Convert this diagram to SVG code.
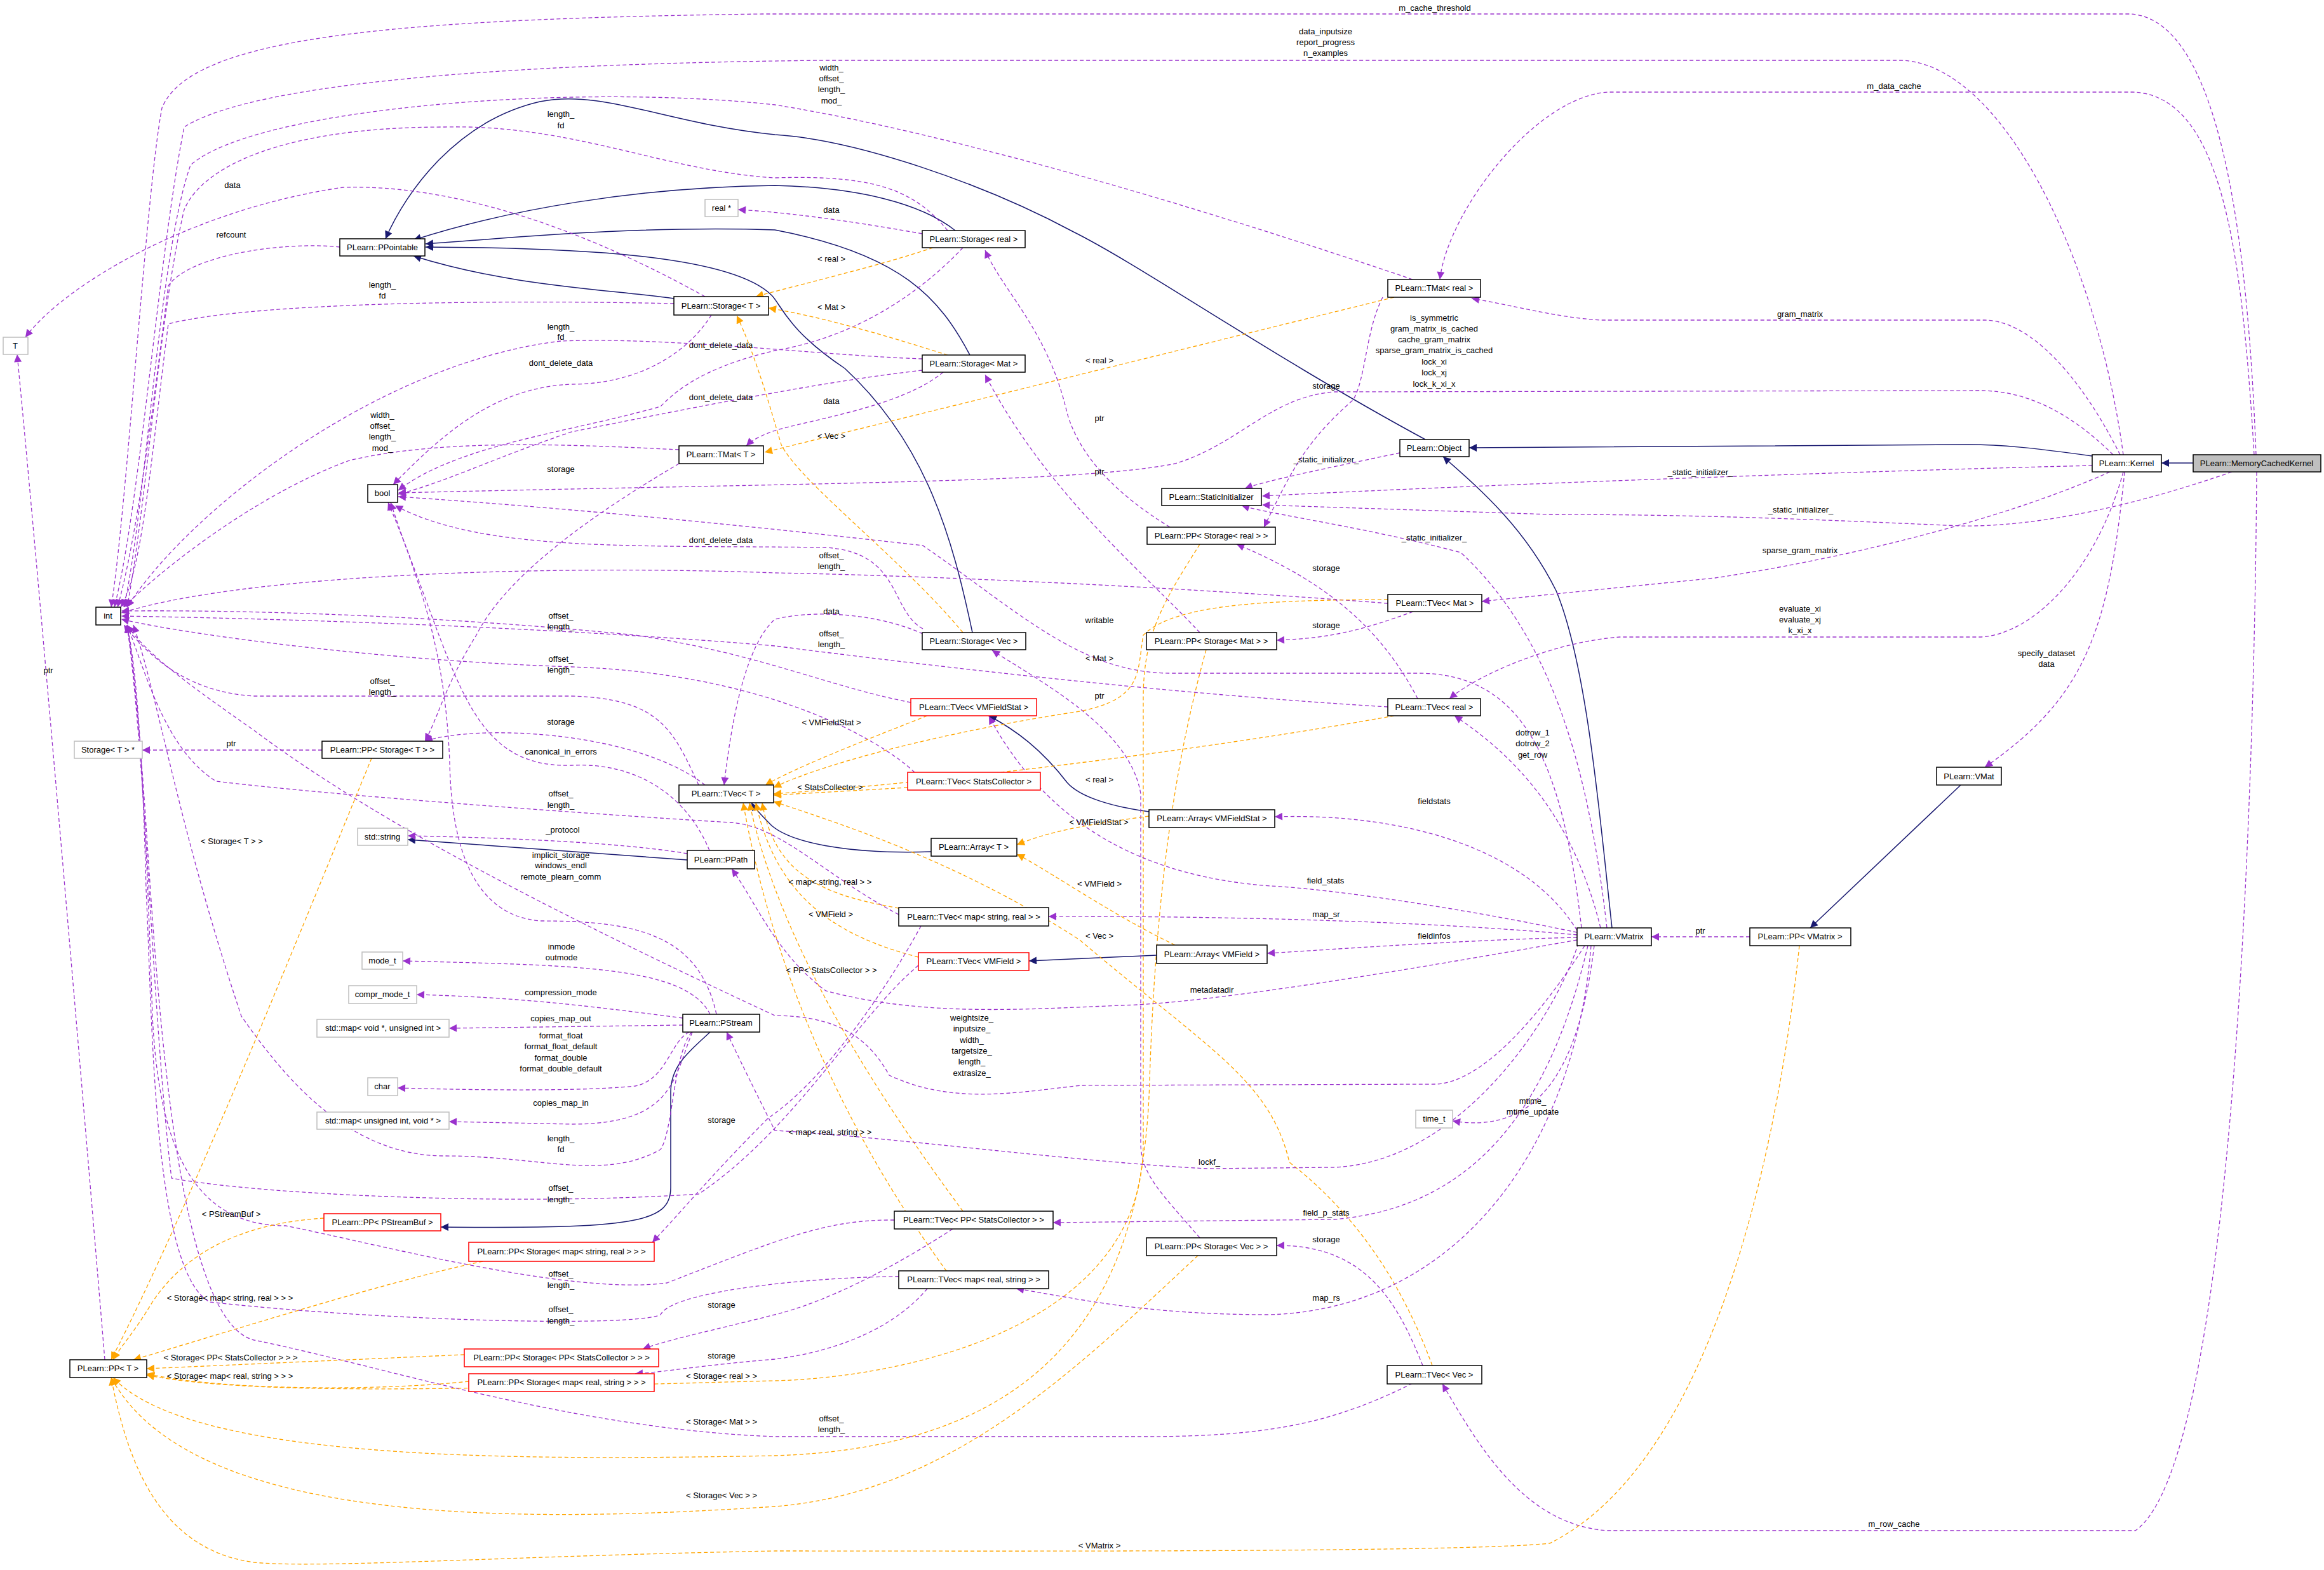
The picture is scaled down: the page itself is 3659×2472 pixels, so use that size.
<svg xmlns="http://www.w3.org/2000/svg" width="3659" height="2472" viewBox="0 0 3659 2472">
<style>
text{font-family:"Liberation Sans",Arial,sans-serif;font-size:13px;fill:#000}
.n rect{fill:#fff;stroke:#000;stroke-width:1.5}
.g rect{fill:#fff;stroke:#bfbfbf;stroke-width:1.5}
.r rect{fill:#fff;stroke:#ff0000;stroke-width:1.5}
.m rect{fill:#bfbfbf;stroke:#000;stroke-width:1.5}
.node text{text-anchor:middle}
.p{fill:none;stroke:#9a32cd;stroke-width:1.3;stroke-dasharray:6,4;marker-end:url(#ap)}
.o{fill:none;stroke:#ffa500;stroke-width:1.3;stroke-dasharray:6,4;marker-end:url(#ao)}
.b{fill:none;stroke:#191970;stroke-width:1.5;marker-end:url(#ab)}
.l text{text-anchor:middle}
</style>
<defs>
<marker id="ap" viewBox="0 0 10 10" refX="10" refY="5" markerWidth="14" markerHeight="12" markerUnits="userSpaceOnUse" orient="auto"><path d="M0,0L10,5L0,10z" fill="#9a32cd"/></marker>
<marker id="ao" viewBox="0 0 10 10" refX="10" refY="5" markerWidth="14" markerHeight="12" markerUnits="userSpaceOnUse" orient="auto"><path d="M0,0L10,5L0,10z" fill="#ffa500"/></marker>
<marker id="ab" viewBox="0 0 10 10" refX="10" refY="5" markerWidth="16" markerHeight="12" markerUnits="userSpaceOnUse" orient="auto"><path d="M0,0L10,5L0,10z" fill="#191970"/></marker>
</defs>
<rect width="3659" height="2472" fill="#fff"/>
<g id="connectors">
<!-- inheritance -->
<path class="b" d="M3453,729L3403,729"/>
<path class="b" d="M3294,718C3200,705 3150,700 3100,700L2313,705"/>
<path class="b" d="M2244,692C2000,560 1800,420 1690,365C1550,290 1350,220 1220,212C1050,195 950,140 850,160C720,190 640,300 607,376"/>
<path class="b" d="M1504,363C1450,320 1350,295 1220,292C1000,295 800,330 651,378"/>
<path class="b" d="M1527,559C1480,470 1420,400 1220,362C1000,355 800,375 670,384"/>
<path class="b" d="M1061,470C950,455 800,450 651,403"/>
<path class="b" d="M1531,996C1500,850 1460,700 1330,580C1240,520 1230,480 1215,465C1150,400 900,390 670,389"/>
<path class="b" d="M1809,1278C1750,1270 1700,1255 1680,1232C1640,1180 1600,1150 1557,1127"/>
<path class="b" d="M1466,1341C1350,1345 1250,1330 1215,1300C1200,1285 1190,1275 1183,1264"/>
<path class="b" d="M1821,1504L1620,1513"/>
<path class="b" d="M1082,1354L642,1322"/>
<path class="b" d="M1118,1625C1080,1660 1056,1680 1056,1720L1056,1870C1056,1925 1000,1935 694,1932"/>
<path class="b" d="M3087,1236L2850,1461"/>
<path class="b" d="M2538,1461C2520,1300 2500,1050 2450,930C2400,830 2330,770 2272,719"/>
<!-- MemoryCachedKernel / Kernel -->
<path class="p" d="M3552,716C3540,400 3500,30 3354,22L1200,22C600,30 300,60 255,170C230,300 200,800 175,956"/>
<path class="p" d="M3549,716C3530,400 3500,150 3358,145L2533,145C2420,150 2280,330 2267,440"/>
<path class="p" d="M3553,743C3550,1200 3520,2300 3362,2410L2530,2410C2400,2400 2330,2280 2271,2179"/>
<path class="p" d="M3514,743C3350,800 3200,830 3086,828C2900,820 2700,810 2440,810L1987,795"/>
<path class="p" d="M3343,716C3300,400 3150,100 2993,95L1300,95C800,100 400,130 290,200C250,400 220,800 180,956"/>
<path class="p" d="M3338,716C3280,600 3200,505 3125,504L2520,504C2450,500 2380,480 2317,470"/>
<path class="p" d="M3327,716C3250,640 3180,615 3117,615L2100,617C2000,625 1950,700 1850,730C1700,760 1300,760 627,776"/>
<path class="p" d="M3294,733C3000,740 2400,760 1987,781"/>
<path class="p" d="M3322,743C3150,820 2900,880 2700,910C2500,930 2400,940 2333,947"/>
<path class="p" d="M3343,743C3300,900 3200,1000 3117,1003L2550,1003C2450,1010 2330,1060 2282,1100"/>
<path class="p" d="M3345,743C3320,1000 3280,1100 3125,1208"/>
<!-- TMat real -->
<path class="p" d="M2224,440C1900,330 1500,210 1220,165C900,130 400,170 300,260C250,400 230,800 195,956"/>
<path class="p" d="M2177,468C2150,520 2150,600 2130,630C2050,700 2030,750 1990,830"/>
<path class="o" d="M2195,468L1204,712"/>
<!-- Storage real -->
<path class="p" d="M1452,368C1350,350 1250,335 1162,330"/>
<path class="o" d="M1469,390C1380,420 1250,450 1190,467"/>
<path class="p" d="M1516,390C1450,460 1350,530 1220,552C1100,580 1060,620 1040,640C900,680 720,700 627,772"/>
<path class="p" d="M1492,363C1440,300 1380,275 1220,280C1050,270 900,195 700,200C450,200 320,260 290,330C250,500 230,800 200,956"/>
<!-- Storage Mat -->
<path class="o" d="M1492,559C1400,530 1300,500 1210,485"/>
<path class="p" d="M1452,565C1300,560 1050,530 883,537C600,570 300,800 200,956"/>
<path class="p" d="M1452,583C1300,600 1100,640 900,680C780,720 700,760 627,778"/>
<path class="p" d="M1485,586C1420,640 1280,660 1220,678C1200,685 1185,692 1175,702"/>
<path class="p" d="M1889,996C1800,900 1650,780 1551,590"/>
<path class="p" d="M1842,830C1760,780 1700,720 1680,650C1650,520 1580,460 1551,394"/>
<!-- Storage Vec -->
<path class="p" d="M1889,1949C1830,1880 1796,1850 1796,1800L1796,1250C1780,1150 1650,1080 1562,1024"/>
<path class="o" d="M1516,996C1420,880 1260,760 1230,700C1215,650 1190,560 1160,497"/>
<path class="p" d="M1453,998C1380,965 1280,960 1220,975C1170,1020 1150,1150 1140,1236"/>
<path class="p" d="M1453,990C1400,960 1420,870 1300,862C1000,858 760,870 622,796"/>
<!-- into int -->
<path class="p" d="M1069,708C900,700 700,690 550,725C400,780 250,900 195,956"/>
<path class="p" d="M1061,478C800,472 400,475 265,510C240,700 225,900 190,956"/>
<path class="p" d="M535,389C450,380 300,400 265,450C240,650 215,850 185,956"/>
<path class="p" d="M1100,1236C1060,1150 1040,1100 900,1096L400,1096C300,1090 240,1040 195,984"/>
<path class="p" d="M2185,1113C1800,1090 1400,1040 1220,1017C900,990 500,975 191,970"/>
<path class="p" d="M2185,950C1800,920 1400,905 1220,902C900,890 400,900 191,965"/>
<path class="p" d="M1434,1106C1300,1080 1200,1030 1000,1000C700,970 400,960 191,962"/>
<path class="p" d="M1440,1216C1380,1160 1200,1060 900,1050C600,1040 300,1000 191,975"/>
<path class="p" d="M1415,1440C1300,1380 1230,1300 1150,1295C900,1280 500,1250 340,1230C260,1180 230,1060 200,984"/>
<path class="p" d="M1446,1520C1350,1600 1250,1780 1100,1880C800,1900 400,1880 270,1855C240,1600 230,1200 200,984"/>
<path class="p" d="M1408,1921C1300,1920 1230,1950 1050,2020C900,2040 600,1960 450,1930C300,1930 250,1800 240,1600C230,1300 220,1100 200,984"/>
<path class="p" d="M1415,2010C1300,2010 1060,2030 1040,2070C1000,2090 600,2080 330,2050C240,2000 240,1600 230,1400C225,1200 215,1050 200,984"/>
<path class="p" d="M2224,2178C2100,2240 2000,2262 1800,2262L1220,2262C900,2250 600,2150 400,2110C280,2080 250,1600 230,1300C220,1150 210,1050 200,984"/>
<path class="p" d="M1089,1625C1060,1660 1060,1780 1040,1810C950,1860 850,1820 700,1820C550,1820 450,1700 380,1600C280,1300 250,1100 210,984"/>
<path class="p" d="M2495,1489C2450,1560 2350,1700 2263,1707L1702,1709C1600,1720 1500,1740 1400,1693C1360,1620 1300,1600 1220,1599C900,1450 600,1300 400,1150C300,1080 230,1030 200,984"/>
<!-- into bool -->
<path class="p" d="M1120,496C1080,560 1000,605 900,605C780,610 700,680 619,763"/>
<path class="p" d="M1117,1339C1080,1250 1000,1200 900,1205C730,1210 720,1050 611,791"/>
<path class="p" d="M1128,1597C1100,1470 1000,1450 850,1450C730,1440 710,1300 708,1200C700,1000 650,900 615,791"/>
<path class="p" d="M2490,1461C2460,1200 2400,1060 2232,1060L1843,1060C1700,1060 1600,960 1453,859C1200,830 900,800 627,782"/>
<!-- into TVec T -->
<path class="o" d="M2195,1127C1900,1180 1500,1230 1218,1250"/>
<path class="o" d="M2185,944C2000,945 1850,950 1800,1000C1790,1060 1800,1100 1700,1120C1500,1150 1300,1200 1218,1240"/>
<path class="o" d="M1460,1127C1350,1170 1250,1210 1205,1236"/>
<path class="o" d="M1429,1240L1218,1252"/>
<path class="o" d="M1415,1430C1300,1410 1220,1380 1200,1264"/>
<path class="o" d="M1446,1507C1300,1470 1220,1400 1190,1264"/>
<path class="o" d="M1516,1907C1400,1750 1230,1500 1180,1264"/>
<path class="o" d="M1490,2001C1380,1850 1230,1600 1170,1264"/>
<path class="o" d="M2255,2150C2200,2000 2120,1900 2030,1830C2000,1700 1900,1650 1700,1480C1500,1350 1300,1290 1218,1262"/>
<!-- into PP T -->
<path class="o" d="M2833,1489C2800,1800 2700,2300 2440,2430C2300,2445 1500,2442 1220,2442C800,2450 500,2470 400,2460C250,2440 200,2300 175,2169"/>
<path class="o" d="M585,1194C500,1400 300,1900 175,2141"/>
<path class="o" d="M510,1918C400,1925 300,1960 240,2050C210,2100 190,2120 178,2141"/>
<path class="o" d="M760,1986C600,2020 350,2100 210,2141"/>
<path class="o" d="M731,2133L231,2155"/>
<path class="o" d="M738,2175C600,2190 350,2190 231,2163"/>
<path class="o" d="M1889,857C1830,950 1800,1000 1800,1100L1800,1800C1800,2100 1400,2170 1220,2174C800,2185 400,2200 231,2165"/>
<path class="o" d="M1899,1023C1850,1200 1820,1400 1810,1700C1800,2100 1600,2280 1220,2292C800,2300 300,2300 178,2169"/>
<path class="o" d="M1886,1977C1700,2150 1500,2350 1220,2372C800,2400 300,2400 175,2169"/>
<!-- misc -->
<path class="p" d="M1069,730C950,800 800,900 750,1000C700,1080 690,1130 669,1167"/>
<path class="p" d="M1110,1236C1000,1150 750,1140 669,1167"/>
<path class="p" d="M507,1181L224,1181"/>
<path class="p" d="M165,2141C120,1600 60,900 27,558"/>
<path class="p" d="M1110,467C900,350 700,290 540,295C300,330 100,450 40,531"/>
<path class="p" d="M1118,1597C1080,1520 900,1520 634,1513"/>
<path class="p" d="M1075,1603C900,1580 800,1570 656,1566"/>
<path class="p" d="M1075,1614L707,1619"/>
<path class="p" d="M1085,1625C1055,1640 1050,1700 1000,1710C900,1720 700,1715 626,1713"/>
<path class="p" d="M1090,1625C1060,1700 1060,1770 900,1770L707,1766"/>
<path class="p" d="M1082,1344C1000,1330 850,1320 642,1316"/>
<path class="p" d="M1450,1458C1400,1550 1300,1700 1210,1760C1120,1850 1080,1900 1027,1956"/>
<path class="p" d="M2485,1485C2450,1600 2300,1830 2100,1838L1900,1840C1700,1830 1400,1790 1220,1780C1200,1740 1170,1680 1144,1625"/>
<path class="p" d="M1500,1935C1400,2000 1300,2050 1220,2070C1100,2100 1050,2110 1012,2124"/>
<path class="p" d="M1460,2029C1400,2100 1300,2130 1220,2140C1100,2150 1050,2160 1000,2163"/>
<path class="p" d="M2232,1100C2180,1000 2100,920 1947,857"/>
<path class="p" d="M2225,963C2150,990 2100,1005 2010,1008"/>
<path class="p" d="M2240,2150C2200,2050 2150,1960 2010,1961"/>
<path class="p" d="M2204,713C2100,735 2000,755 1960,769"/>
<path class="p" d="M2530,1461C2500,1200 2440,1000 2300,870C2150,830 2000,810 1955,796"/>
<path class="p" d="M2483,1465C2400,1330 2200,1280 2007,1286"/>
<path class="p" d="M2483,1468C2300,1430 2100,1400 2000,1395C1800,1380 1650,1300 1557,1128"/>
<path class="p" d="M2483,1472C2300,1455 2000,1442 1651,1443"/>
<path class="p" d="M2483,1476C2300,1480 2100,1495 1995,1501"/>
<path class="p" d="M2483,1480C2200,1530 1900,1580 1765,1583C1600,1590 1450,1600 1300,1560C1220,1500 1190,1420 1152,1368"/>
<path class="p" d="M2510,1489C2490,1650 2440,1790 2287,1765"/>
<path class="p" d="M2520,1461C2480,1300 2400,1200 2290,1127"/>
<path class="p" d="M2500,1489C2450,1700 2350,1900 2100,1920L1658,1925"/>
<path class="p" d="M2505,1489C2480,1800 2300,2060 2000,2070C1800,2070 1700,2045 1600,2029"/>
<path class="p" d="M2755,1475L2600,1475"/>
<path class="o" d="M1809,1285C1700,1300 1650,1310 1601,1330"/>
<path class="o" d="M1850,1488C1750,1440 1650,1370 1601,1345"/>
</g>
<g id="labels" class="l">
<text x="2259" y="17">m_cache_threshold</text>
<text x="2087" y="54">data_inputsize</text><text x="2087" y="71">report_progress</text><text x="2087" y="88">n_examples</text>
<text x="2982" y="140">m_data_cache</text>
<text x="1309" y="111">width_</text><text x="1309" y="128">offset_</text><text x="1309" y="145">length_</text><text x="1309" y="163">mod_</text>
<text x="883" y="184">length_</text><text x="883" y="202">fd</text>
<text x="366" y="296">data</text>
<text x="1309" y="335">data</text>
<text x="364" y="374">refcount</text>
<text x="1309" y="412">&lt; real &gt;</text>
<text x="602" y="453">length_</text><text x="602" y="470">fd</text>
<text x="1309" y="488">&lt; Mat &gt;</text>
<text x="2834" y="499">gram_matrix</text>
<text x="2258" y="505">is_symmetric</text><text x="2258" y="522">gram_matrix_is_cached</text><text x="2258" y="539">cache_gram_matrix</text><text x="2258" y="556">sparse_gram_matrix_is_cached</text><text x="2258" y="574">lock_xi</text><text x="2258" y="591">lock_xj</text><text x="2258" y="609">lock_k_xi_x</text>
<text x="883" y="519">length_</text><text x="883" y="535">fd</text>
<text x="1135" y="548">dont_delete_data</text>
<text x="1731" y="572">&lt; real &gt;</text>
<text x="883" y="576">dont_delete_data</text>
<text x="2088" y="612">storage</text>
<text x="1135" y="630">dont_delete_data</text>
<text x="1309" y="636">data</text>
<text x="602" y="658">width_</text><text x="602" y="675">offset_</text><text x="602" y="692">length_</text><text x="602" y="710">mod_</text>
<text x="1731" y="663">ptr</text>
<text x="1309" y="691">&lt; Vec &gt;</text>
<text x="2088" y="728">_static_initializer_</text>
<text x="2677" y="748">_static_initializer_</text>
<text x="883" y="743">storage</text>
<text x="1731" y="747">ptr</text>
<text x="2835" y="807">_static_initializer_</text>
<text x="2258" y="851">_static_initializer_</text>
<text x="1135" y="855">dont_delete_data</text>
<text x="2834" y="871">sparse_gram_matrix</text>
<text x="1309" y="879">offset_</text><text x="1309" y="896">length_</text>
<text x="2088" y="899">storage</text>
<text x="2834" y="963">evaluate_xi</text><text x="2834" y="980">evaluate_xj</text><text x="2834" y="997">k_xi_x</text>
<text x="1309" y="967">data</text>
<text x="883" y="974">offset_</text><text x="883" y="991">length_</text>
<text x="1731" y="981">writable</text>
<text x="2088" y="989">storage</text>
<text x="1309" y="1002">offset_</text><text x="1309" y="1019">length_</text>
<text x="3222" y="1033">specify_dataset</text><text x="3222" y="1050">data</text>
<text x="1731" y="1041">&lt; Mat &gt;</text>
<text x="883" y="1042">offset_</text><text x="883" y="1059">length_</text>
<text x="76" y="1060">ptr</text>
<text x="602" y="1077">offset_</text><text x="602" y="1094">length_</text>
<text x="1731" y="1100">ptr</text>
<text x="1309" y="1142">&lt; VMFieldStat &gt;</text>
<text x="883" y="1141">storage</text>
<text x="2413" y="1158">dotrow_1</text><text x="2413" y="1175">dotrow_2</text><text x="2413" y="1193">get_row</text>
<text x="364" y="1175">ptr</text>
<text x="883" y="1188">canonical_in_errors</text>
<text x="1731" y="1232">&lt; real &gt;</text>
<text x="1307" y="1244">&lt; StatsCollector &gt;</text>
<text x="883" y="1254">offset_</text><text x="883" y="1272">length_</text>
<text x="2258" y="1266">fieldstats</text>
<text x="1730" y="1299">&lt; VMFieldStat &gt;</text>
<text x="886" y="1311">_protocol</text>
<text x="365" y="1329">&lt; Storage&lt; T &gt; &gt;</text>
<text x="883" y="1351">implicit_storage</text><text x="883" y="1367">windows_endl</text><text x="883" y="1385">remote_plearn_comm</text>
<text x="1307" y="1393">&lt; map&lt; string, real &gt; &gt;</text>
<text x="2087" y="1391">field_stats</text>
<text x="1731" y="1396">&lt; VMField &gt;</text>
<text x="1308" y="1444">&lt; VMField &gt;</text>
<text x="2088" y="1444">map_sr</text>
<text x="2677" y="1470">ptr</text>
<text x="1731" y="1478">&lt; Vec &gt;</text>
<text x="2258" y="1478">fieldinfos</text>
<text x="884" y="1495">inmode</text><text x="884" y="1512">outmode</text>
<text x="1309" y="1532">&lt; PP&lt; StatsCollector &gt; &gt;</text>
<text x="1908" y="1563">metadatadir</text>
<text x="883" y="1567">compression_mode</text>
<text x="1530" y="1607">weightsize_</text><text x="1530" y="1624">inputsize_</text><text x="1530" y="1642">width_</text><text x="1530" y="1659">targetsize_</text><text x="1530" y="1676">length_</text><text x="1530" y="1694">extrasize_</text>
<text x="883" y="1608">copies_map_out</text>
<text x="883" y="1635">format_float</text><text x="883" y="1652">format_float_default</text><text x="883" y="1670">format_double</text><text x="883" y="1687">format_double_default</text>
<text x="2413" y="1738">mtime_</text><text x="2413" y="1755">mtime_update</text>
<text x="883" y="1741">copies_map_in</text>
<text x="1136" y="1768">storage</text>
<text x="1307" y="1787">&lt; map&lt; real, string &gt; &gt;</text>
<text x="883" y="1797">length_</text><text x="883" y="1814">fd</text>
<text x="1904" y="1834">lockf_</text>
<text x="883" y="1875">offset_</text><text x="883" y="1893">length_</text>
<text x="2088" y="1914">field_p_stats</text>
<text x="364" y="1916">&lt; PStreamBuf &gt;</text>
<text x="2088" y="1956">storage</text>
<text x="883" y="2010">offset_</text><text x="883" y="2028">length_</text>
<text x="2088" y="2048">map_rs</text>
<text x="362" y="2048">&lt; Storage&lt; map&lt; string, real &gt; &gt; &gt;</text>
<text x="1136" y="2059">storage</text>
<text x="883" y="2066">offset_</text><text x="883" y="2084">length_</text>
<text x="1136" y="2139">storage</text>
<text x="363" y="2142">&lt; Storage&lt; PP&lt; StatsCollector &gt; &gt; &gt;</text>
<text x="362" y="2171">&lt; Storage&lt; map&lt; real, string &gt; &gt; &gt;</text>
<text x="1136" y="2171">&lt; Storage&lt; real &gt; &gt;</text>
<text x="1309" y="2238">offset_</text><text x="1309" y="2255">length_</text>
<text x="1136" y="2243">&lt; Storage&lt; Mat &gt; &gt;</text>
<text x="1136" y="2359">&lt; Storage&lt; Vec &gt; &gt;</text>
<text x="2982" y="2404">m_row_cache</text>
<text x="1731" y="2438">&lt; VMatrix &gt;</text>
</g>
<g id="n_mck" class="node m"><rect x="3453" y="716" width="201" height="27"/><text x="3553" y="734">PLearn::MemoryCachedKernel</text></g>
<g id="n_kernel" class="node n"><rect x="3294" y="716" width="109" height="27"/><text x="3348" y="734">PLearn::Kernel</text></g>
<g id="n_object" class="node n"><rect x="2204" y="692" width="109" height="27"/><text x="2258" y="710">PLearn::Object</text></g>
<g id="n_ppointable" class="node n"><rect x="535" y="376" width="134" height="27"/><text x="602" y="394">PLearn::PPointable</text></g>
<g id="n_realptr" class="node g"><rect x="1110" y="314" width="52" height="27"/><text x="1136" y="332">real *</text></g>
<g id="n_storageT" class="node n"><rect x="1061" y="467" width="149" height="29"/><text x="1135" y="486">PLearn::Storage&lt; T &gt;</text></g>
<g id="n_T" class="node g"><rect x="5" y="531" width="39" height="27"/><text x="24" y="549">T</text></g>
<g id="n_tmatT" class="node n"><rect x="1069" y="702" width="133" height="28"/><text x="1135" y="720">PLearn::TMat&lt; T &gt;</text></g>
<g id="n_bool" class="node n"><rect x="579" y="763" width="47" height="28"/><text x="602" y="781">bool</text></g>
<g id="n_int" class="node n"><rect x="151" y="956" width="39" height="28"/><text x="170" y="974">int</text></g>
<g id="n_storageTptr" class="node g"><rect x="117" y="1167" width="107" height="27"/><text x="170" y="1185">Storage&lt; T &gt; *</text></g>
<g id="n_ppstorageT" class="node n"><rect x="507" y="1167" width="190" height="27"/><text x="602" y="1185">PLearn::PP&lt; Storage&lt; T &gt; &gt;</text></g>
<g id="n_storagereal" class="node n"><rect x="1452" y="363" width="162" height="27"/><text x="1533" y="381">PLearn::Storage&lt; real &gt;</text></g>
<g id="n_storagemat" class="node n"><rect x="1452" y="559" width="162" height="27"/><text x="1533" y="577">PLearn::Storage&lt; Mat &gt;</text></g>
<g id="n_tmatreal" class="node n"><rect x="2185" y="440" width="146" height="28"/><text x="2258" y="458">PLearn::TMat&lt; real &gt;</text></g>
<g id="n_static" class="node n"><rect x="1829" y="769" width="157" height="27"/><text x="1907" y="787">PLearn::StaticInitializer</text></g>
<g id="n_ppstoragereal" class="node n"><rect x="1806" y="830" width="202" height="27"/><text x="1907" y="848">PLearn::PP&lt; Storage&lt; real &gt; &gt;</text></g>
<g id="n_tvecmat" class="node n"><rect x="2185" y="936" width="148" height="27"/><text x="2259" y="954">PLearn::TVec&lt; Mat &gt;</text></g>
<g id="n_storagevec" class="node n"><rect x="1452" y="996" width="163" height="27"/><text x="1533" y="1014">PLearn::Storage&lt; Vec &gt;</text></g>
<g id="n_ppstoragemat" class="node n"><rect x="1805" y="996" width="205" height="27"/><text x="1907" y="1014">PLearn::PP&lt; Storage&lt; Mat &gt; &gt;</text></g>
<g id="n_tvecvmfs" class="node r"><rect x="1434" y="1100" width="198" height="27"/><text x="1533" y="1118">PLearn::TVec&lt; VMFieldStat &gt;</text></g>
<g id="n_tvecreal" class="node n"><rect x="2185" y="1100" width="146" height="27"/><text x="2258" y="1118">PLearn::TVec&lt; real &gt;</text></g>
<g id="n_tvecsc" class="node r"><rect x="1429" y="1216" width="209" height="28"/><text x="1533" y="1235">PLearn::TVec&lt; StatsCollector &gt;</text></g>
<g id="n_vmat" class="node n"><rect x="3049" y="1208" width="102" height="28"/><text x="3100" y="1227">PLearn::VMat</text></g>
<g id="n_tvecT" class="node n"><rect x="1069" y="1236" width="149" height="28"/><text x="1143" y="1254">PLearn::TVec&lt; T &gt;</text></g>
<g id="n_string" class="node g"><rect x="563" y="1304" width="79" height="27"/><text x="602" y="1322">std::string</text></g>
<g id="n_ppath" class="node n"><rect x="1082" y="1339" width="106" height="29"/><text x="1135" y="1358">PLearn::PPath</text></g>
<g id="n_modet" class="node g"><rect x="570" y="1499" width="64" height="27"/><text x="602" y="1517">mode_t</text></g>
<g id="n_comprmodet" class="node g"><rect x="549" y="1552" width="107" height="28"/><text x="602" y="1570">compr_mode_t</text></g>
<g id="n_mapvoid" class="node g"><rect x="499" y="1605" width="208" height="28"/><text x="603" y="1623">std::map&lt; void *, unsigned int &gt;</text></g>
<g id="n_pstream" class="node n"><rect x="1075" y="1597" width="121" height="28"/><text x="1135" y="1615">PLearn::PStream</text></g>
<g id="n_char" class="node g"><rect x="579" y="1697" width="47" height="28"/><text x="602" y="1715">char</text></g>
<g id="n_mapuint" class="node g"><rect x="499" y="1751" width="208" height="27"/><text x="603" y="1769">std::map&lt; unsigned int, void * &gt;</text></g>
<g id="n_pppstreambuf" class="node r"><rect x="510" y="1911" width="184" height="27"/><text x="602" y="1929">PLearn::PP&lt; PStreamBuf &gt;</text></g>
<g id="n_ppsmapsr" class="node r"><rect x="738" y="1956" width="292" height="30"/><text x="884" y="1975">PLearn::PP&lt; Storage&lt; map&lt; string, real &gt; &gt; &gt;</text></g>
<g id="n_ppsppsc" class="node r"><rect x="731" y="2124" width="306" height="28"/><text x="884" y="2142">PLearn::PP&lt; Storage&lt; PP&lt; StatsCollector &gt; &gt; &gt;</text></g>
<g id="n_ppsmaprs" class="node r"><rect x="738" y="2163" width="292" height="28"/><text x="884" y="2181">PLearn::PP&lt; Storage&lt; map&lt; real, string &gt; &gt; &gt;</text></g>
<g id="n_ppT" class="node n"><rect x="110" y="2141" width="121" height="28"/><text x="170" y="2159">PLearn::PP&lt; T &gt;</text></g>
<g id="n_arrayvmfs" class="node n"><rect x="1809" y="1275" width="198" height="28"/><text x="1908" y="1293">PLearn::Array&lt; VMFieldStat &gt;</text></g>
<g id="n_arrayT" class="node n"><rect x="1466" y="1320" width="135" height="28"/><text x="1533" y="1338">PLearn::Array&lt; T &gt;</text></g>
<g id="n_tvecmapsr" class="node n"><rect x="1415" y="1429" width="236" height="29"/><text x="1533" y="1448">PLearn::TVec&lt; map&lt; string, real &gt; &gt;</text></g>
<g id="n_arrayvmf" class="node n"><rect x="1821" y="1488" width="174" height="29"/><text x="1908" y="1507">PLearn::Array&lt; VMField &gt;</text></g>
<g id="n_tvecvmf" class="node r"><rect x="1446" y="1500" width="174" height="28"/><text x="1533" y="1518">PLearn::TVec&lt; VMField &gt;</text></g>
<g id="n_timet" class="node g"><rect x="2229" y="1748" width="58" height="28"/><text x="2258" y="1766">time_t</text></g>
<g id="n_tvecppsc" class="node n"><rect x="1408" y="1907" width="250" height="28"/><text x="1533" y="1925">PLearn::TVec&lt; PP&lt; StatsCollector &gt; &gt;</text></g>
<g id="n_ppstoragevec" class="node n"><rect x="1805" y="1949" width="205" height="28"/><text x="1907" y="1967">PLearn::PP&lt; Storage&lt; Vec &gt; &gt;</text></g>
<g id="n_tvecmaprs" class="node n"><rect x="1415" y="2001" width="236" height="28"/><text x="1533" y="2019">PLearn::TVec&lt; map&lt; real, string &gt; &gt;</text></g>
<g id="n_tvecvec" class="node n"><rect x="2184" y="2150" width="149" height="29"/><text x="2258" y="2169">PLearn::TVec&lt; Vec &gt;</text></g>
<g id="n_vmatrix" class="node n"><rect x="2483" y="1461" width="117" height="28"/><text x="2541" y="1479">PLearn::VMatrix</text></g>
<g id="n_ppvmatrix" class="node n"><rect x="2755" y="1461" width="159" height="28"/><text x="2834" y="1479">PLearn::PP&lt; VMatrix &gt;</text></g>
</svg>
